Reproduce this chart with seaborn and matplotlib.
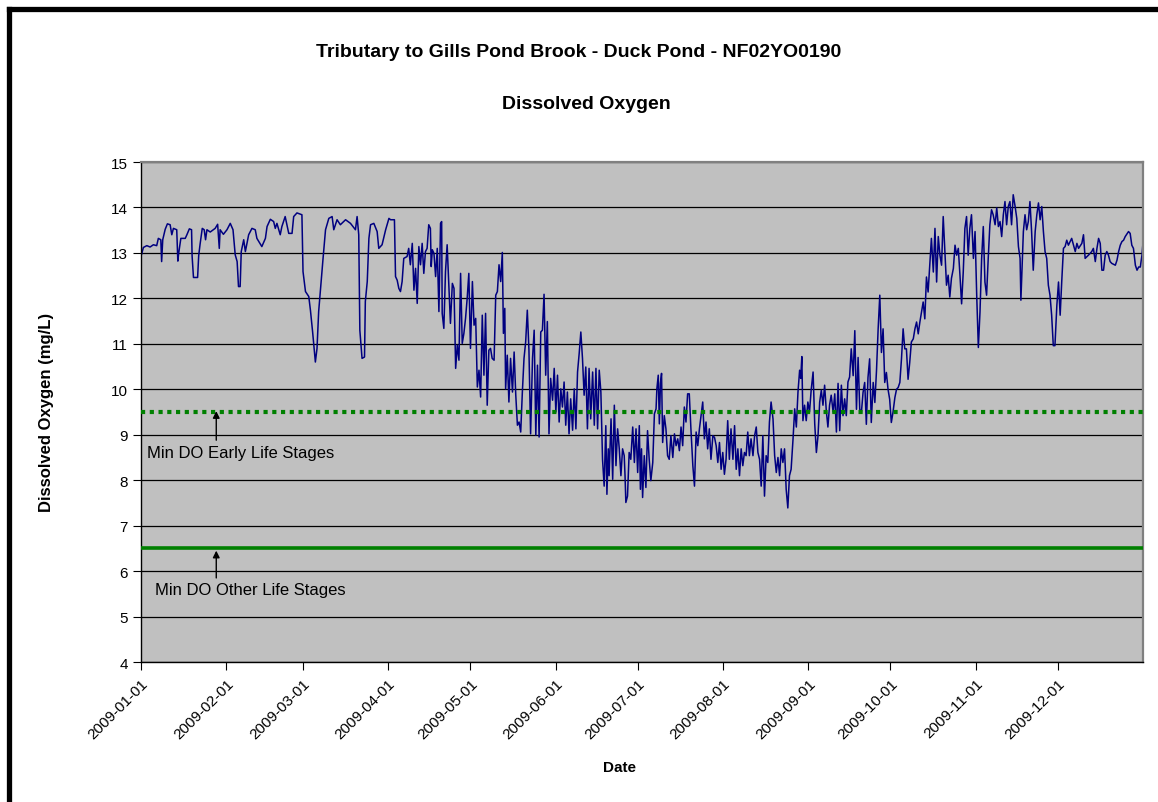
import pandas as pd
import matplotlib
matplotlib.use('Agg')
import matplotlib.pyplot as plt
import matplotlib.dates as mdates
from matplotlib.lines import Line2D
import seaborn as sns

# readings: day of year (0 = 2009-01-01) and dissolved oxygen (mg/L)
jan_mar_day = [0.0, 0.2, 0.85, 2.1, 3.3, 4.5, 5.7, 6.3, 7.2, 7.5, 7.9, 8.8, 9.6, 10.6, 11.2, 11.8, 13.0, 13.4, 13.7,
               14.5, 16.1, 16.7, 17.6, 18.4, 18.6, 19.1, 20.6, 21.0, 21.5, 22.3, 23.0, 23.5, 24.0, 25.2, 27.0, 27.9,
               28.5, 28.8, 30.0, 31.3, 32.5, 33.5, 34.3, 35.0, 35.5, 36.1, 36.5, 37.4, 38.0, 39.2, 40.4, 41.6, 42.2,
               44.0, 45.3, 45.9, 47.1, 48.3, 48.9, 49.5, 50.7, 51.3, 52.5, 53.8, 55.0, 55.6, 56.8, 58.6, 59.0, 59.9,
               61.1, 61.7, 62.5, 63.5, 64.1, 64.7, 65.3, 66.3, 67.2, 68.4, 69.6, 70.2, 71.4, 72.6, 74.5, 76.3, 78.1,
               78.7, 79.3, 79.7, 80.5, 81.4, 81.7, 82.4, 83.0, 83.6, 84.8, 86.0, 86.6, 87.8, 89.1, 90.3]
jan_mar_do = [13.03, 12.97, 13.12, 13.16, 13.13, 13.18, 13.16, 13.32, 13.29, 12.81, 13.29, 13.52, 13.64, 13.62, 13.40,
              13.54, 13.51, 12.82, 12.99, 13.32, 13.32, 13.40, 13.53, 13.51, 12.93, 12.46, 12.46, 12.94, 13.19, 13.54,
              13.51, 13.29, 13.51, 13.46, 13.54, 13.63, 13.10, 13.51, 13.41, 13.51, 13.65, 13.51, 12.96, 12.81, 12.26,
              12.26, 13.03, 13.29, 13.03, 13.40, 13.54, 13.51, 13.32, 13.14, 13.32, 13.58, 13.74, 13.69, 13.54, 13.65,
              13.40, 13.58, 13.80, 13.43, 13.43, 13.80, 13.88, 13.84, 12.59, 12.15, 12.04, 11.74, 11.26, 10.60, 10.90,
              11.71, 12.15, 12.88, 13.51, 13.76, 13.80, 13.51, 13.73, 13.62, 13.73, 13.65, 13.51, 13.80, 13.40, 11.30,
              10.68, 10.71, 11.93, 12.37, 13.32, 13.62, 13.65, 13.47, 13.10, 13.18, 13.51, 13.76]

apr_jun_day = [90.9, 92.3, 92.7, 93.3, 93.9, 94.5, 95.1, 95.7, 96.9, 97.5, 98.1, 98.8, 99.4, 100.0, 100.6, 101.2,
               101.8, 102.4, 103.0, 103.6, 104.2, 104.8, 105.4, 105.7, 106.1, 106.7, 107.3, 107.9, 108.5, 109.1,
               109.5, 109.7, 110.3, 110.9, 111.5, 112.1, 112.7, 113.4, 114.0, 114.6, 115.2, 115.8, 116.4, 117.0,
               117.6, 118.2, 118.8, 119.4, 120.0, 120.7, 121.3, 121.9, 122.5, 123.1, 123.7, 124.3, 124.9, 125.5,
               126.1, 126.7, 127.3, 127.9, 128.6, 129.2, 129.8, 130.4, 131.0, 131.6, 132.0, 132.5, 132.8, 133.4,
               134.0, 134.6, 135.3, 135.9, 136.5, 137.1, 137.7, 138.3, 138.9, 139.5, 140.1, 140.7, 141.3, 141.9,
               142.6, 143.2, 143.8, 144.4, 145.0, 145.6, 146.2, 146.8, 147.4, 148.0, 148.6, 149.2, 149.9, 150.5,
               151.1, 151.7, 152.3, 152.9, 153.5, 154.1, 154.7, 155.3, 155.9, 156.5, 157.2, 157.8, 158.4, 159.0,
               159.6, 160.2, 160.8, 161.4, 162.0, 162.6, 163.2, 163.8, 164.5, 165.1, 165.7, 166.3, 166.9]
apr_jun_do = [13.73, 13.73, 12.48, 12.40, 12.22, 12.15, 12.37, 12.88, 12.92, 13.10, 12.74, 13.21, 12.18, 12.66, 11.89,
              13.14, 12.74, 13.21, 12.55, 13.03, 13.10, 13.62, 13.54, 12.70, 13.07, 12.99, 12.48, 13.10, 11.71, 13.65,
              13.69, 11.67, 11.34, 12.59, 13.18, 12.29, 11.45, 12.33, 12.22, 10.46, 10.97, 10.64, 12.55, 11.01, 11.23,
              11.56, 12.00, 12.55, 10.90, 12.37, 11.41, 11.56, 10.05, 10.42, 9.83, 11.63, 10.31, 11.67, 9.65, 10.86,
              10.90, 10.68, 10.64, 12.07, 12.15, 12.74, 12.37, 13.01, 11.23, 11.78, 10.01, 10.75, 9.72, 10.68, 9.94,
              10.82, 9.87, 9.21, 9.28, 9.06, 9.94, 10.68, 11.04, 11.74, 10.86, 9.02, 10.68, 11.30, 8.99, 10.53, 8.95,
              11.26, 11.30, 12.09, 10.31, 11.49, 9.02, 10.24, 9.76, 10.46, 9.50, 10.31, 9.28, 10.01, 9.61, 10.16, 9.21,
              9.94, 9.02, 9.79, 9.10, 10.01, 9.13, 10.38, 10.79, 11.26, 10.68, 9.87, 10.49, 9.13, 10.46, 9.35, 10.38,
              9.21, 10.46, 9.13, 10.42]

jun_sep_day = [167.5, 168.1, 168.7, 169.3, 169.7, 170.2, 170.5, 171.2, 171.8, 172.4, 173.0, 173.6, 174.2, 174.8,
               175.4, 176.0, 176.3, 176.6, 177.2, 177.8, 178.4, 179.1, 179.7, 180.3, 180.9, 181.5, 181.9, 182.3,
               182.7, 183.3, 183.9, 184.5, 185.1, 185.7, 186.4, 187.0, 187.6, 187.9, 188.4, 188.8, 189.2, 189.6,
               190.0, 190.6, 191.2, 191.8, 192.4, 193.0, 193.7, 194.3, 194.9, 195.5, 196.1, 196.7, 197.3, 197.9,
               198.5, 199.1, 199.7, 200.3, 201.0, 201.6, 202.2, 202.8, 203.4, 204.0, 204.6, 205.2, 205.8, 206.4,
               207.0, 207.6, 208.3, 208.9, 209.5, 210.1, 210.7, 211.3, 211.9, 212.5, 213.1, 213.7, 214.3, 214.9,
               215.6, 216.2, 216.8, 217.4, 218.0, 218.6, 219.2, 219.8, 220.4, 221.0, 221.6, 222.2, 222.9, 223.5,
               224.1, 224.7, 225.3, 225.9, 226.5, 227.1, 227.7, 228.3, 228.9, 229.5, 230.2, 230.8, 231.4, 232.0,
               232.6, 233.2, 233.8, 234.4, 235.0, 235.6, 236.2, 236.8, 237.5, 238.1, 238.7, 239.3, 239.9, 240.3,
               240.7, 241.1, 241.7, 242.3, 242.9, 243.5, 244.1, 244.8, 245.4, 246.0, 246.6, 247.2, 247.8, 248.4,
               249.0, 249.6, 250.2, 250.8, 251.4, 252.1, 252.7, 253.3, 253.9, 254.5, 255.1, 255.7, 256.3, 256.9,
               257.5, 258.1]
jun_sep_do = [9.94, 8.46, 7.87, 9.20, 7.69, 8.69, 8.10, 9.35, 8.02, 9.65, 8.32, 9.13, 8.69, 8.10, 8.69, 8.54, 8.10,
              7.51, 7.65, 8.61, 8.46, 9.17, 8.39, 9.13, 8.17, 9.20, 7.80, 8.69, 7.62, 8.54, 7.84, 9.09, 8.46, 7.99,
              8.39, 9.46, 9.57, 10.01, 10.31, 9.24, 10.13, 10.35, 8.83, 9.42, 9.13, 8.54, 8.46, 8.98, 8.50, 9.02, 8.76,
              8.91, 8.65, 9.17, 8.76, 9.61, 9.28, 9.90, 9.90, 9.13, 8.32, 7.87, 9.06, 8.76, 9.13, 9.42, 9.72, 8.91,
              9.28, 8.69, 9.13, 8.46, 8.98, 8.94, 8.76, 8.39, 8.83, 8.24, 8.61, 8.13, 8.46, 9.31, 8.46, 9.13, 8.46,
              9.20, 8.24, 8.69, 8.10, 8.69, 8.32, 8.61, 8.54, 9.06, 8.54, 8.91, 8.54, 8.98, 9.17, 8.61, 8.46, 7.87,
              8.98, 7.65, 8.54, 8.39, 9.28, 9.72, 9.35, 8.54, 8.17, 8.50, 8.10, 8.69, 8.39, 8.69, 7.80, 7.39, 8.10,
              8.24, 8.91, 9.57, 9.17, 9.94, 10.42, 10.24, 10.72, 9.31, 9.65, 9.31, 9.72, 9.50, 9.98, 10.38, 9.24, 8.61,
              8.98, 9.72, 9.98, 9.65, 10.09, 9.54, 9.17, 9.65, 9.87, 9.50, 9.90, 9.06, 10.13, 9.09, 10.09, 9.42, 9.79,
              9.42, 10.16, 10.27]

sep_dec_day = [258.7, 259.4, 260.0, 260.6, 261.2, 261.8, 262.4, 263.0, 263.6, 264.2, 264.8, 265.4, 266.0, 266.7,
               267.3, 267.9, 268.5, 269.1, 269.7, 270.3, 270.9, 271.5, 272.1, 272.7, 273.3, 273.9, 274.6, 275.2,
               275.8, 276.4, 277.0, 277.6, 278.2, 278.8, 279.4, 280.0, 280.6, 281.3, 281.9, 282.5, 283.1, 283.7,
               284.3, 284.9, 285.5, 286.1, 286.7, 287.3, 287.9, 288.6, 289.2, 289.8, 290.4, 291.0, 291.6, 292.2,
               292.8, 293.4, 294.0, 294.6, 295.2, 295.9, 296.5, 297.1, 297.7, 298.3, 298.9, 299.5, 300.1, 300.7,
               301.3, 301.9, 302.5, 303.2, 303.8, 304.4, 305.0, 305.6, 306.2, 306.8, 307.4, 308.0, 308.6, 309.2,
               309.8, 310.4, 311.1, 311.7, 312.3, 312.9, 313.5, 314.1, 314.7, 315.3, 315.9, 316.5, 317.1, 317.7,
               318.4, 319.0, 319.6, 320.2, 320.5, 321.0, 321.4, 322.0, 322.6, 323.2, 323.8, 324.4, 325.0, 325.7,
               326.3, 326.9, 327.5, 328.1, 328.7, 329.3, 329.9, 330.5, 331.1, 331.7, 332.3, 332.9, 333.6, 334.2,
               334.8, 335.4, 336.0, 336.6, 337.2, 337.8, 339.0, 340.3, 340.9, 341.5, 342.7, 343.3, 343.9, 345.1,
               346.3, 346.9, 347.6, 348.2, 348.8, 349.4, 350.0, 350.6, 351.2, 351.8, 352.4, 353.0, 353.6, 354.9,
               355.5, 356.1, 356.7, 357.3, 357.9, 358.5, 359.7, 360.3, 360.9, 361.5, 362.2, 362.8, 363.4, 364.0,
               364.6, 364.9]
sep_dec_do = [10.89, 10.30, 11.29, 9.56, 10.70, 9.56, 9.49, 9.93, 10.15, 9.23, 10.26, 10.67, 9.27, 10.15, 9.71, 10.41,
              11.33, 12.07, 10.81, 11.33, 10.15, 10.37, 10.00, 9.78, 9.27, 9.49, 9.82, 10.00, 10.04, 10.15, 10.67,
              11.33, 10.89, 10.89, 10.22, 10.59, 11.04, 11.11, 11.33, 11.48, 11.22, 11.48, 11.70, 11.92, 11.55, 12.47,
              12.14, 12.73, 13.32, 12.58, 13.54, 12.36, 13.36, 12.95, 12.73, 13.80, 13.03, 12.29, 12.51, 12.03, 12.44,
              12.66, 13.17, 12.95, 13.10, 12.51, 11.88, 12.58, 13.54, 13.80, 12.95, 13.54, 13.84, 12.88, 13.47, 12.07,
              10.92, 11.70, 12.88, 13.58, 12.36, 12.07, 12.88, 13.62, 13.95, 13.84, 13.62, 13.99, 13.58, 13.69, 13.36,
              13.84, 14.13, 13.62, 14.02, 14.13, 13.62, 14.28, 14.02, 13.76, 13.14, 12.88, 11.96, 12.77, 13.47, 13.84,
              13.51, 13.69, 14.13, 13.47, 12.62, 13.47, 13.84, 14.10, 13.73, 14.02, 13.47, 13.03, 12.88, 12.29, 12.07,
              11.63, 10.96, 10.96, 11.85, 12.36, 11.63, 12.40, 13.10, 13.14, 13.28, 13.17, 13.32, 13.03, 13.21, 13.10,
              13.21, 13.40, 12.88, 12.95, 13.03, 13.10, 12.81, 13.10, 13.32, 13.21, 12.62, 12.62, 12.95, 13.03, 12.95,
              12.81, 12.77, 12.73, 12.84, 13.03, 13.17, 13.25, 13.28, 13.36, 13.47, 13.43, 13.17, 13.10, 12.73, 12.62,
              12.69, 12.69, 12.95, 13.17]

early_min = 9.5
other_min = 6.5

days = jan_mar_day + apr_jun_day + jun_sep_day + sep_dec_day
do = jan_mar_do + apr_jun_do + jun_sep_do + sep_dec_do
start = pd.Timestamp('2009-01-01')
df = pd.DataFrame({'date': start + pd.to_timedelta(days, unit='D'), 'do': do})

sns.set_style('ticks')
plt.rcParams['font.family'] = ['Liberation Sans', 'DejaVu Sans']
plt.rcParams.update({'text.color': 'black', 'axes.labelcolor': 'black',
                     'xtick.color': 'black', 'ytick.color': 'black'})

fig = plt.figure(figsize=(11.58, 8.03), dpi=100)
ax = fig.add_axes([0.1218, 0.1743, 0.8653, 0.6227])
ax.set_facecolor('#C0C0C0')

sns.lineplot(data=df, x='date', y='do', ax=ax, color='#000080', lw=1.1, estimator=None, sort=False, zorder=2)
ax.axhline(early_min, color='#008000', lw=3, ls=(0, (1, 1.1)), zorder=3)
ax.axhline(other_min, color='#008000', lw=2.6, zorder=3)

ax.set_ylim(4, 15)
ax.set_yticks(range(4, 16))
ax.set_xlim(start, pd.Timestamp('2010-01-01'))
ax.set_xticks(pd.date_range('2009-01-01', '2009-12-01', freq='MS'))
ax.xaxis.set_major_formatter(mdates.DateFormatter('%Y-%m-%d'))
ax.yaxis.grid(True, color='black', lw=0.9)
ax.set_axisbelow(True)
ax.set_xlabel('')
ax.set_ylabel('')

for side in ['left', 'bottom']:
    ax.spines[side].set_color('black')
    ax.spines[side].set_linewidth(1.0)
for side in ['top', 'right']:
    ax.spines[side].set_visible(True)
    ax.spines[side].set_color('#808080')
    ax.spines[side].set_linewidth(1.6)

ax.tick_params(axis='both', direction='out', length=6, width=0.8, color='black', labelcolor='black',
               labelsize=11)
ax.tick_params(axis='x', pad=4)
for lbl in ax.get_xticklabels():
    lbl.set_rotation(45)
    lbl.set_ha('right')
    lbl.set_rotation_mode('anchor')

# reference line labels
arrow_x = start + pd.Timedelta(days=27.4)
ax.annotate('', xy=(arrow_x, 9.52), xytext=(arrow_x, 8.88),
            arrowprops=dict(arrowstyle='-|>', color='black', lw=1, mutation_scale=10, shrinkA=0, shrinkB=0))
ax.annotate('', xy=(arrow_x, 6.45), xytext=(arrow_x, 5.85),
            arrowprops=dict(arrowstyle='-|>', color='black', lw=1, mutation_scale=10, shrinkA=0, shrinkB=0))
ax.text(start + pd.Timedelta(days=2.2), 8.62, 'Min DO Early Life Stages', va='center', ha='left', fontsize=12,
        color='black')
ax.text(start + pd.Timedelta(days=5.1), 5.6, 'Min DO Other Life Stages', va='center', ha='left', fontsize=12,
        color='black')

fig.text(0.5, 0.935, 'Tributary to Gills Pond Brook - Duck Pond - NF02YO0190', ha='center', va='center',
         fontsize=14, fontweight='bold', color='black')
fig.text(0.506, 0.870, 'Dissolved Oxygen', ha='center', va='center', fontsize=14, fontweight='bold', color='black')
fig.text(0.040, 0.486, 'Dissolved Oxygen (mg/L)', ha='center', va='center', rotation=90, fontsize=12,
         fontweight='bold', color='black')
fig.text(0.535, 0.0436, 'Date', ha='center', va='center', fontsize=11, fontweight='bold', color='black')

# chart border
fig.add_artist(Line2D([8.5 / 1158, 8.5 / 1158], [-0.05, 1 - 10 / 803], transform=fig.transFigure,
                      color='black', lw=3.8, solid_capstyle='projecting'))
fig.add_artist(Line2D([8.5 / 1158, 1.05], [1 - 10 / 803, 1 - 10 / 803], transform=fig.transFigure,
                      color='black', lw=3.8, solid_capstyle='projecting'))

fig.savefig('out.png', dpi=100)
